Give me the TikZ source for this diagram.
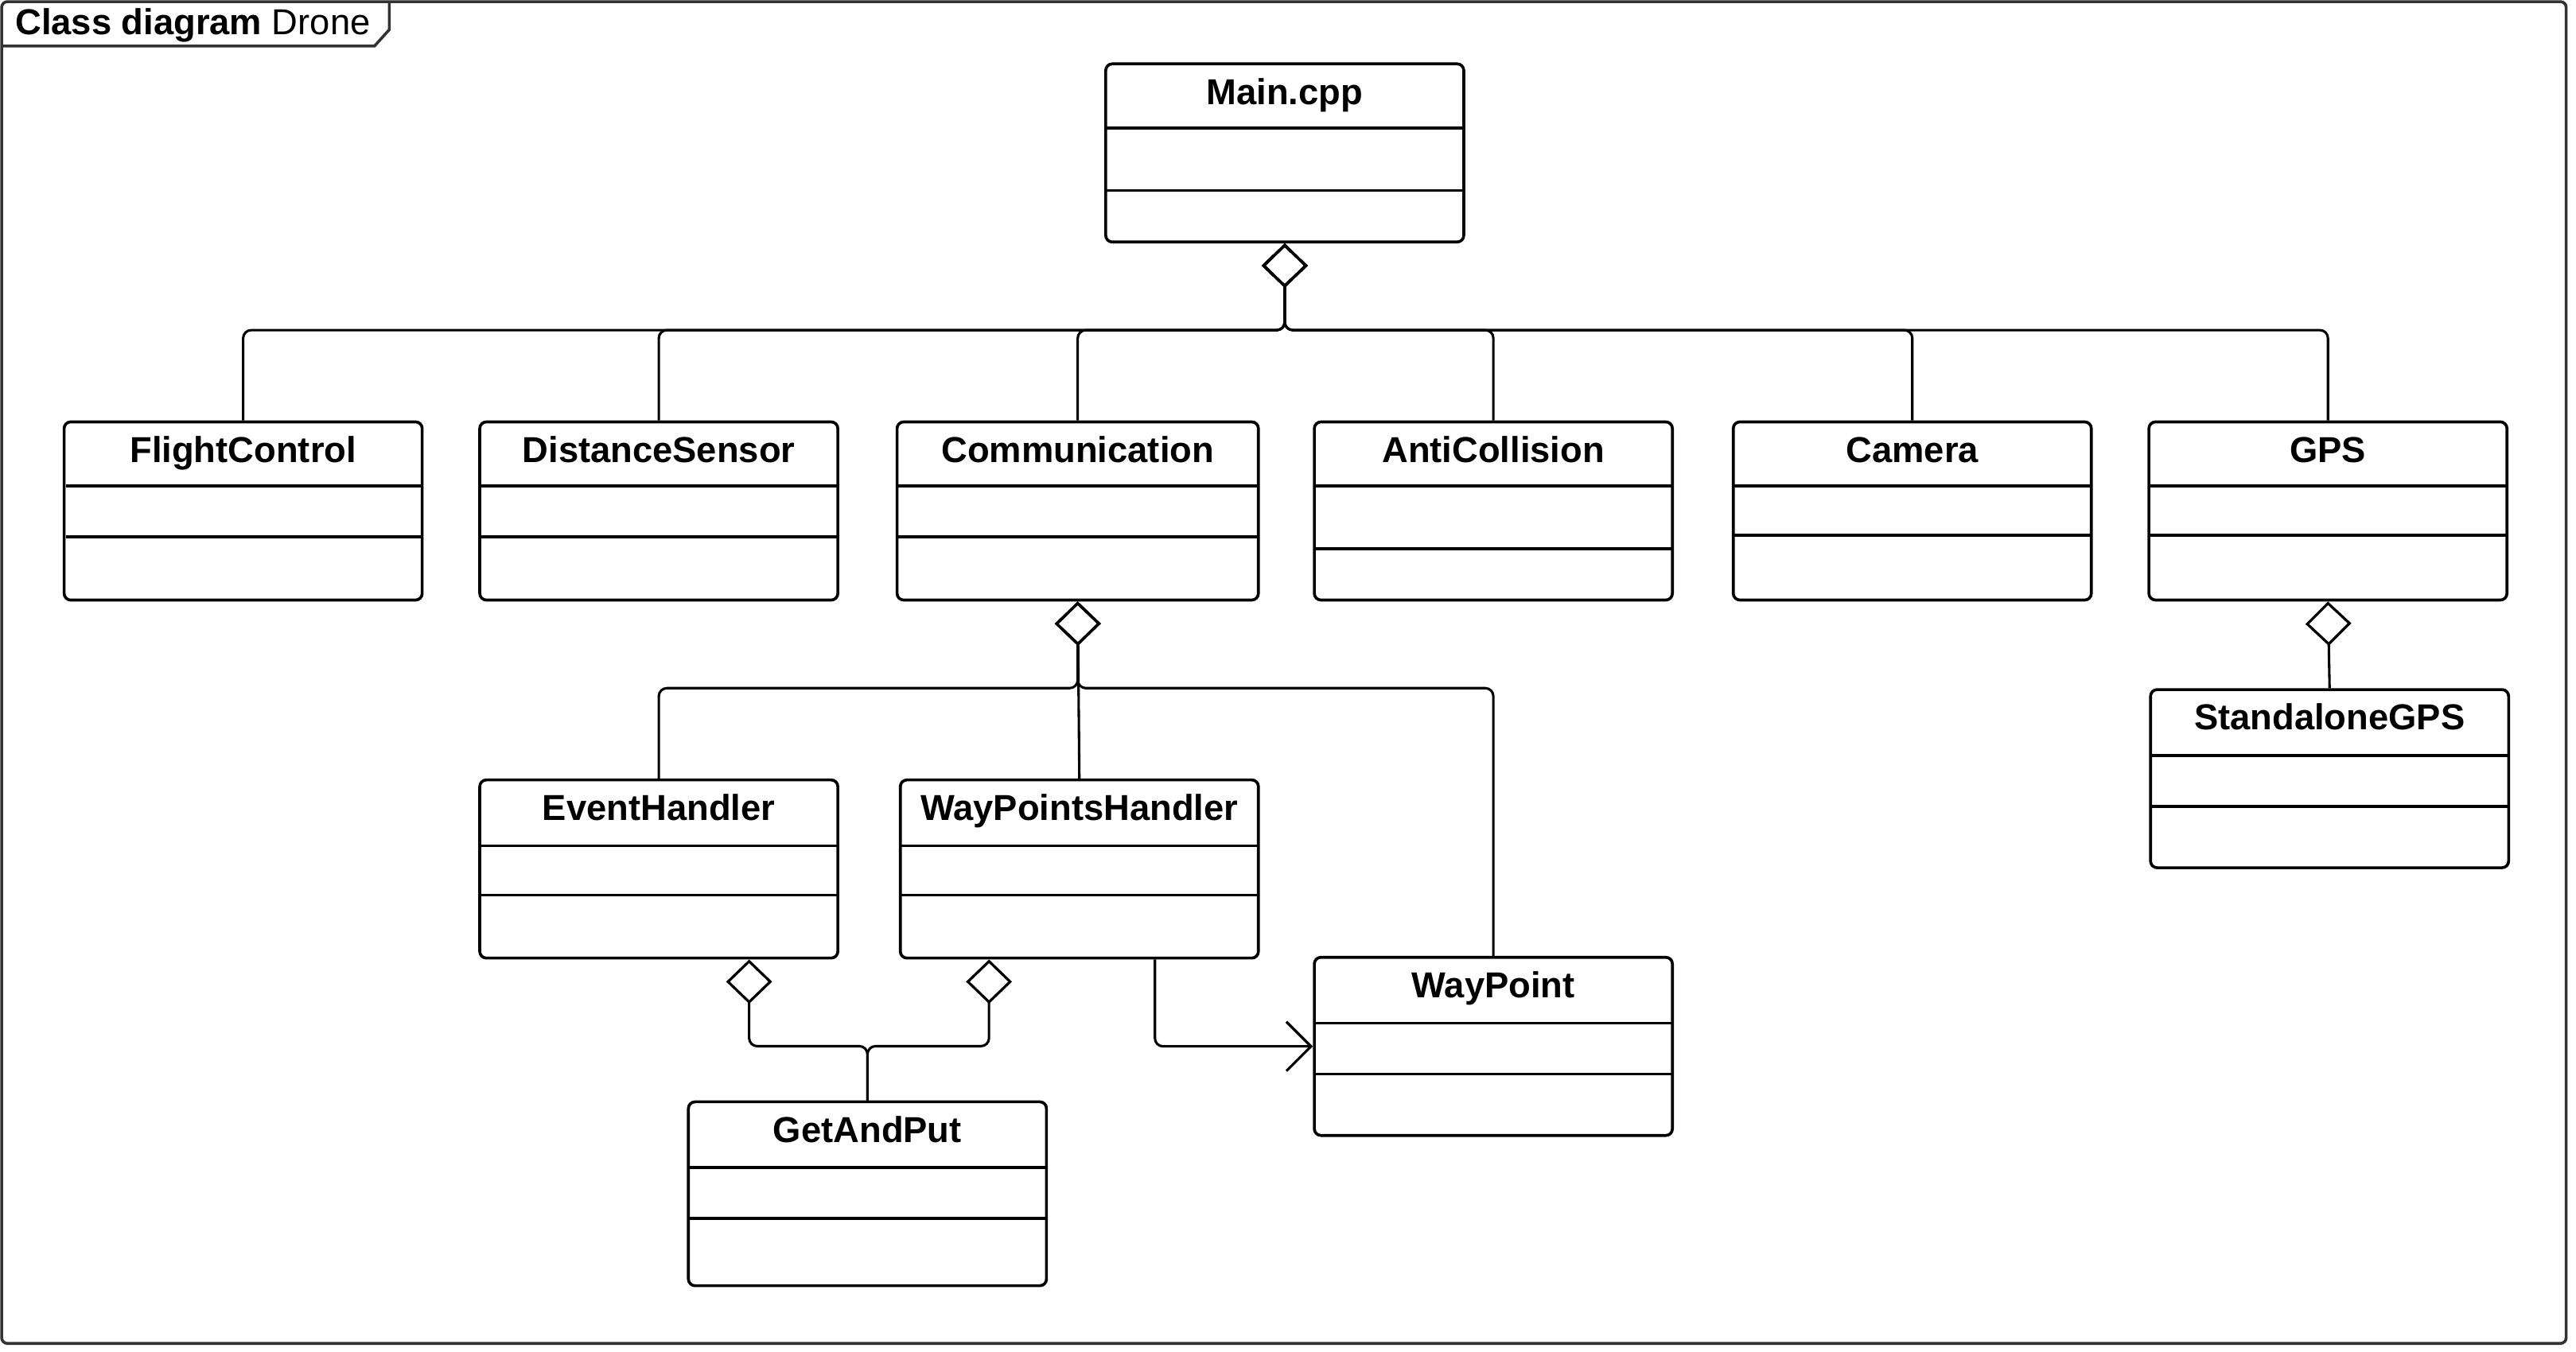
\documentclass[tikz,border=0pt]{standalone}
\usepackage{fontspec}
\setmainfont{Liberation Sans}
\usepackage{xcolor}
\usepackage{tikz}
\usetikzlibrary{arrows.meta}

\definecolor{framegray}{HTML}{333333}

\tikzset{
  classbox/.style={draw, line width=1pt, rounded corners=2.3pt, minimum width=4.36cm, minimum height=2.17cm, anchor=north, inner sep=0pt},
  classname/.style={anchor=base, font=\fontsize{12.5}{15}\selectfont\bfseries, inner sep=0pt},
  divider/.style={line width=1pt},
  agg/.style={line width=0.85pt, rounded corners=2.8pt, {Diamond[open, length=0.54cm, width=0.56cm, line width=0.9pt]}-},
  assoc/.style={line width=0.85pt, rounded corners=2.8pt, -{Straight Barb[length=0.3cm, width=0.6cm, line width=0.9pt]}},
}

\begin{document}
\begin{tikzpicture}[x=0.02cm, y=-0.02cm]
            \useasboundingbox (0,0) rectangle (1568,823.2);

            % frame
            \draw[framegray, line width=1pt, rounded corners=2pt] (1,1) rectangle (1562,818);
            \draw[framegray, line width=1pt] (1,28) -- (228,28) -- (237,18) -- (237,1);
            \node[anchor=base west, font=\fontsize{12.5}{15}\selectfont, inner sep=0pt] (title) at (9,21) {\textbf{Class diagram} Drone};

            % top class
            \node[classbox] (main) at (782,38) {};
            \node[classname] (mainlabel) at (782,63.5) {Main.cpp};
            \draw[divider] (673,78) -- (891,78);
            \draw[divider] (673,116) -- (891,116);

            % first row
            \node[classbox] (flight) at (148,256) {};
            \node[classname] (flightlabel) at (148,281.5) {FlightControl};
            \draw[divider] (40,296) -- (256,296);
            \draw[divider] (40,327) -- (256,327);

            \node[classbox] (distance) at (401,256) {};
            \node[classname] (distancelabel) at (401,281.5) {DistanceSensor};
            \draw[divider] (292,296) -- (510,296);
            \draw[divider] (292,327) -- (510,327);

            \node[classbox, minimum width=4.4cm] (comm) at (656,256) {};
            \node[classname] (commlabel) at (656,281.5) {Communication};
            \draw[divider] (546,296) -- (766,296);
            \draw[divider] (546,327) -- (766,327);

            \node[classbox] (anticoll) at (909,256) {};
            \node[classname] (anticolllabel) at (909,281.5) {AntiCollision};
            \draw[divider] (800,296) -- (1018,296);
            \draw[divider] (800,334) -- (1018,334);

            \node[classbox] (camera) at (1164,256) {};
            \node[classname] (cameralabel) at (1164,281.5) {Camera};
            \draw[divider] (1055,296) -- (1273,296);
            \draw[divider] (1055,326) -- (1273,326);

            \node[classbox] (gps) at (1417,256) {};
            \node[classname] (gpslabel) at (1417,281.5) {GPS};
            \draw[divider] (1308,296) -- (1527,296);
            \draw[divider] (1308,326) -- (1527,326);

            % second row
            \node[classbox] (sgps) at (1418,419) {};
            \node[classname] (sgpslabel) at (1418,444.5) {StandaloneGPS};
            \draw[divider] (1309,460) -- (1527,460);
            \draw[divider] (1309,491) -- (1527,491);

            \node[classbox] (event) at (401,474) {};
            \node[classname] (eventlabel) at (401,499.5) {EventHandler};
            \draw[divider] (292,515) -- (510,515);
            \draw[divider] (292,545) -- (510,545);

            \node[classbox] (wph) at (657,474) {};
            \node[classname] (wphlabel) at (657,499.5) {WayPointsHandler};
            \draw[divider] (548,515) -- (766,515);
            \draw[divider] (548,545) -- (766,545);

            \node[classbox] (waypoint) at (909,582) {};
            \node[classname] (waypointlabel) at (909,607.5) {WayPoint};
            \draw[divider] (800,623) -- (1018,623);
            \draw[divider] (800,654) -- (1018,654);

            \node[classbox, minimum height=2.24cm] (gap) at (528,670) {};
            \node[classname] (gaplabel) at (528,695.5) {GetAndPut};
            \draw[divider] (419,711) -- (637,711);
            \draw[divider] (419,742) -- (637,742);

            % aggregations
            \coordinate (mainbus) at (782,201);
            \draw[agg] (main.south) -- (mainbus) -| (flight.north);
            \draw[agg] (main.south) -- (mainbus) -| (distance.north);
            \draw[agg] (main.south) -- (mainbus) -| (comm.north);
            \draw[agg] (main.south) -- (mainbus) -| (anticoll.north);
            \draw[agg] (main.south) -- (mainbus) -| (camera.north);
            \draw[agg] (main.south) -- (mainbus) -| (gps.north);

            \coordinate (commbus) at (656,419);
            \draw[agg] (comm.south) -- (commbus) -| (event.north);
            \draw[agg] (comm.south) -- (wph.north);
            \draw[agg] (comm.south) -- (commbus) -| (waypoint.north);

            \draw[agg] (gps.south) -- (sgps.north);

            \coordinate (gapbus) at (528,637);
            \draw[agg] ([xshift=1.1cm]event.south) |- (gapbus) -- (gap.north);
            \draw[agg] ([xshift=-1.1cm]wph.south) |- (gapbus) -- (gap.north);

            % association
            \draw[assoc] ([xshift=0.92cm]wph.south) |- (waypoint.west);
        \end{tikzpicture}
\end{document}
